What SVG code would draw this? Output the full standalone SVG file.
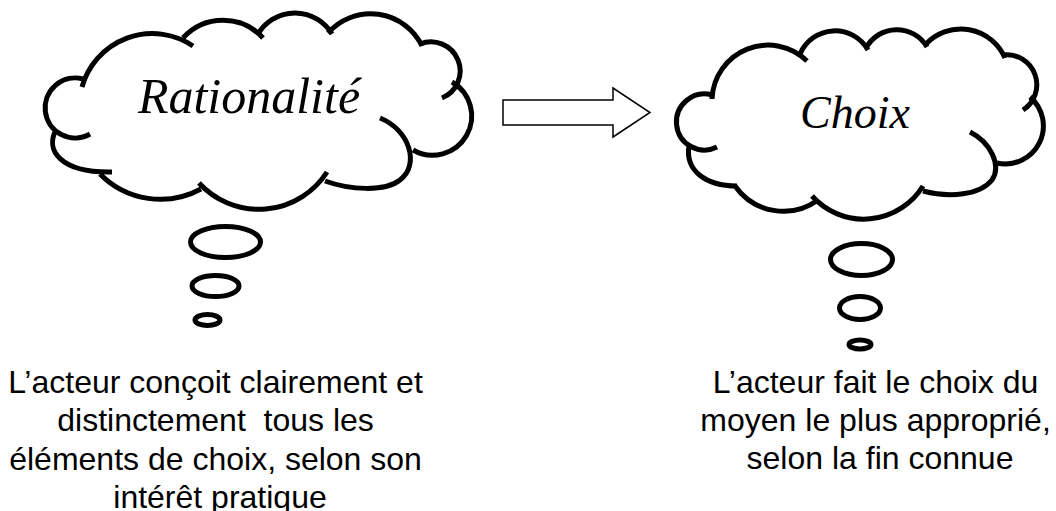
<svg xmlns="http://www.w3.org/2000/svg" width="1056" height="511" viewBox="0 0 1056 511">
  <style>
    .lobe { fill: none; stroke: #000; stroke-width: 5; stroke-linecap: butt; }
    .bubble { fill: none; stroke: #000; stroke-width: 5; }
    .title { font-family: "Liberation Serif", "DejaVu Serif", serif; font-style: italic; fill: #000; text-anchor: middle; }
    .caption { font-family: "Liberation Sans", Arial, sans-serif; font-size: 32px; fill: #000; text-anchor: middle; }
    .arrow { fill: #fff; stroke: #000; stroke-width: 1.5; stroke-linejoin: miter; }
  </style>
  <rect width="1056" height="511" fill="#fff"/>

  <g id="rationalite">
    <g class="lobe">
      <path d="M82,87 A73,73 0 0 1 193,46"/>
      <path d="M183,38 A54,54 0 0 1 263,38"/>
      <path d="M258,34 A43,43 0 0 1 332,34"/>
      <path d="M328,33 A57,57 0 0 1 422,46"/>
      <path d="M420,44 A29,29 0 0 1 442,98"/>
      <path d="M452,82 A38,38 0 0 1 413,150"/>
      <path d="M380,118 C410,130 420,165 400,180 C385,192 350,190 325,181"/>
      <path d="M327,172 A81,81 0 0 1 199,183"/>
      <path d="M201,189 A85,85 0 0 1 100,174"/>
      <path d="M56,130 C45,150 60,173 112,172"/>
      <path d="M90,134 A30,30 0 1 1 83,79"/>
    </g>
    <text class="title" x="249" y="113" font-size="50">Rationalité</text>
    <ellipse class="bubble" cx="225.5" cy="242" rx="35" ry="15.5"/>
    <ellipse class="bubble" cx="215.5" cy="286" rx="23.5" ry="10.5"/>
    <ellipse class="bubble" cx="207.5" cy="320" rx="12.5" ry="5.5"/>
    <text class="caption">
      <tspan x="220" y="393">L’acteur conçoit clairement et</tspan>
      <tspan x="220" y="431" xml:space="preserve">distinctement  tous les</tspan>
      <tspan x="220" y="470">éléments de choix, selon son</tspan>
      <tspan x="220" y="508">intérêt pratique</tspan>
    </text>
  </g>

  <g id="choix">
    <g class="lobe">
      <path d="M712,99 A56,56 0 0 1 807,61"/>
      <path d="M800,54 A38,38 0 0 1 868,50"/>
      <path d="M866,48 A35,35 0 0 1 927,47"/>
      <path d="M926,44 A48,48 0 0 1 1005,58"/>
      <path d="M1003,55 A30,30 0 0 1 1023,110"/>
      <path d="M1030,97 A38,38 0 0 1 997,163"/>
      <path d="M970,132 C990,142 1002,165 992,180 C980,195 950,198 923,191"/>
      <path d="M923,186 A69.5,69.5 0 0 1 812,196"/>
      <path d="M818,200 A59,59 0 0 1 735,186"/>
      <path d="M737,186 C705,186 685,170 689,146"/>
      <path d="M717,147 A28,28 0 1 1 712,95"/>
    </g>
    <text class="title" x="855" y="128" font-size="46">Choix</text>
    <ellipse class="bubble" cx="861.5" cy="259.5" rx="31" ry="16"/>
    <ellipse class="bubble" cx="860" cy="308" rx="20.5" ry="11.5"/>
    <ellipse class="bubble" cx="860" cy="344.5" rx="11" ry="4.5"/>
    <text class="caption">
      <tspan x="880" y="393">L’acteur fait le choix du</tspan>
      <tspan x="880" y="431">moyen le plus approprié,</tspan>
      <tspan x="880" y="469">selon la fin connue</tspan>
    </text>
  </g>

  <g id="connectors">
    <polygon class="arrow" points="503,100 613,100 613,88 650,112.5 613,137 613,125 503,125"/>
  </g>
</svg>
